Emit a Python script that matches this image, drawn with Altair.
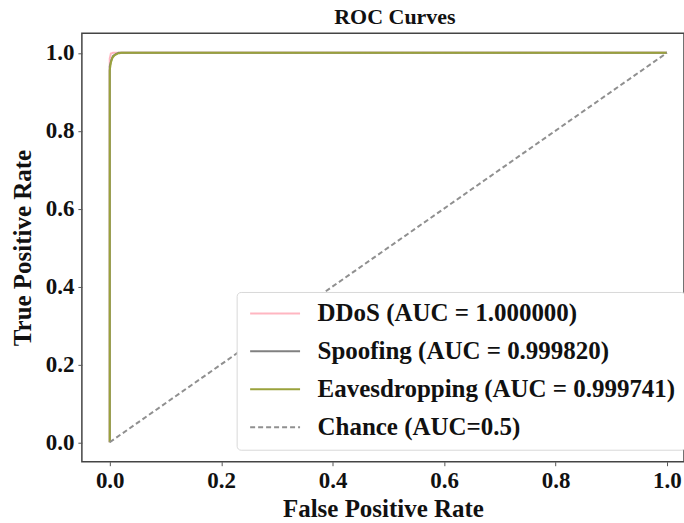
import altair as alt
import pandas as pd

series_names = ["DDoS (AUC = 1.000000)", "Spoofing (AUC = 0.999820)",
                "Eavesdropping (AUC = 0.999741)", "Chance (AUC=0.5)"]
colors = ["#ffb6c1", "#808080", "#9aa23c", "#909090"]
dashes = [[1, 0], [1, 0], [1, 0], [5, 3]]

ddos_fpr = [0.0, 0.0, 0.002, 0.006, 1.0]
ddos_tpr = [0.0, 0.985, 0.998, 1.0, 1.0]
spoof_fpr = [0.0, 0.0, 0.003, 0.006, 0.010, 0.016, 1.0]
spoof_tpr = [0.0, 0.965, 0.982, 0.992, 0.996, 1.0, 1.0]
eaves_fpr = [0.0, 0.0, 0.002, 0.005, 0.009, 0.014, 0.02, 1.0]
eaves_tpr = [0.0, 0.955, 0.975, 0.988, 0.994, 0.998, 1.0, 1.0]
chance_fpr = [0.0, 1.0]
chance_tpr = [0.0, 1.0]

rows = []
for name, xs, ys in zip(series_names,
                        [ddos_fpr, spoof_fpr, eaves_fpr, chance_fpr],
                        [ddos_tpr, spoof_tpr, eaves_tpr, chance_tpr]):
    for i, (x, y) in enumerate(zip(xs, ys)):
        rows.append({"series": name, "fpr": x, "tpr": y, "i": i})
df = pd.DataFrame(rows)

FONT = "Liberation Serif"

x_enc = alt.X("fpr:Q", title="False Positive Rate",
              scale=alt.Scale(domain=[-0.05, 1.0306], nice=False, zero=False),
              axis=alt.Axis(values=[0.0, 0.2, 0.4, 0.6, 0.8, 1.0], format=".1f"))
y_enc = alt.Y("tpr:Q", title="True Positive Rate",
              scale=alt.Scale(domain=[-0.05, 1.05], nice=False, zero=False),
              axis=alt.Axis(values=[0.0, 0.2, 0.4, 0.6, 0.8, 1.0], format=".1f"))

chart = alt.Chart(df).mark_line(strokeWidth=2, clip=True).encode(
    x=x_enc,
    y=y_enc,
    color=alt.Color("series:N", scale=alt.Scale(domain=series_names, range=colors),
                    sort=series_names, title=None,
                    legend=alt.Legend(orient="none", legendX=155, legendY=259,
                                      symbolType="M-0.8,0H4.2", symbolSize=400,
                                      symbolStrokeWidth=2, labelFont=FONT,
                                      labelFontSize=25, labelFontWeight="bold",
                                      labelColor="#111111",
                                      rowPadding=12, labelOffset=47,
                                      padding=9, cornerRadius=4,
                                      strokeColor="#d8d8d8", fillColor="#ffffff",
                                      labelLimit=500)),
    strokeDash=alt.StrokeDash("series:N",
                              scale=alt.Scale(domain=series_names, range=dashes),
                              sort=series_names, title=None, legend=None),
    order="i:Q",
).properties(
    width=603, height=429,
    title=alt.TitleParams("ROC Curves", font=FONT, fontSize=22, fontWeight="bold",
                          color="#111111", dx=12, offset=4),
    autosize=alt.AutoSizeParams(type="none"),
    padding={"left": 82, "top": 33, "right": 0, "bottom": 61},
).configure_axis(
    grid=False, labelFont=FONT, labelFontSize=23, labelFontWeight="bold",
    labelColor="#111111", titleFont=FONT, titleFontSize=25, titleFontWeight="bold",
    titleColor="#111111", domain=False, tickColor="#555555", tickSize=4,
    labelPadding=4,
).configure_axisX(titlePadding=4).configure_axisY(titlePadding=10).configure_view(
    stroke="#444444", strokeWidth=1.5
)

chart.save("out.html", embed_options={"renderer": "svg", "actions": False})
